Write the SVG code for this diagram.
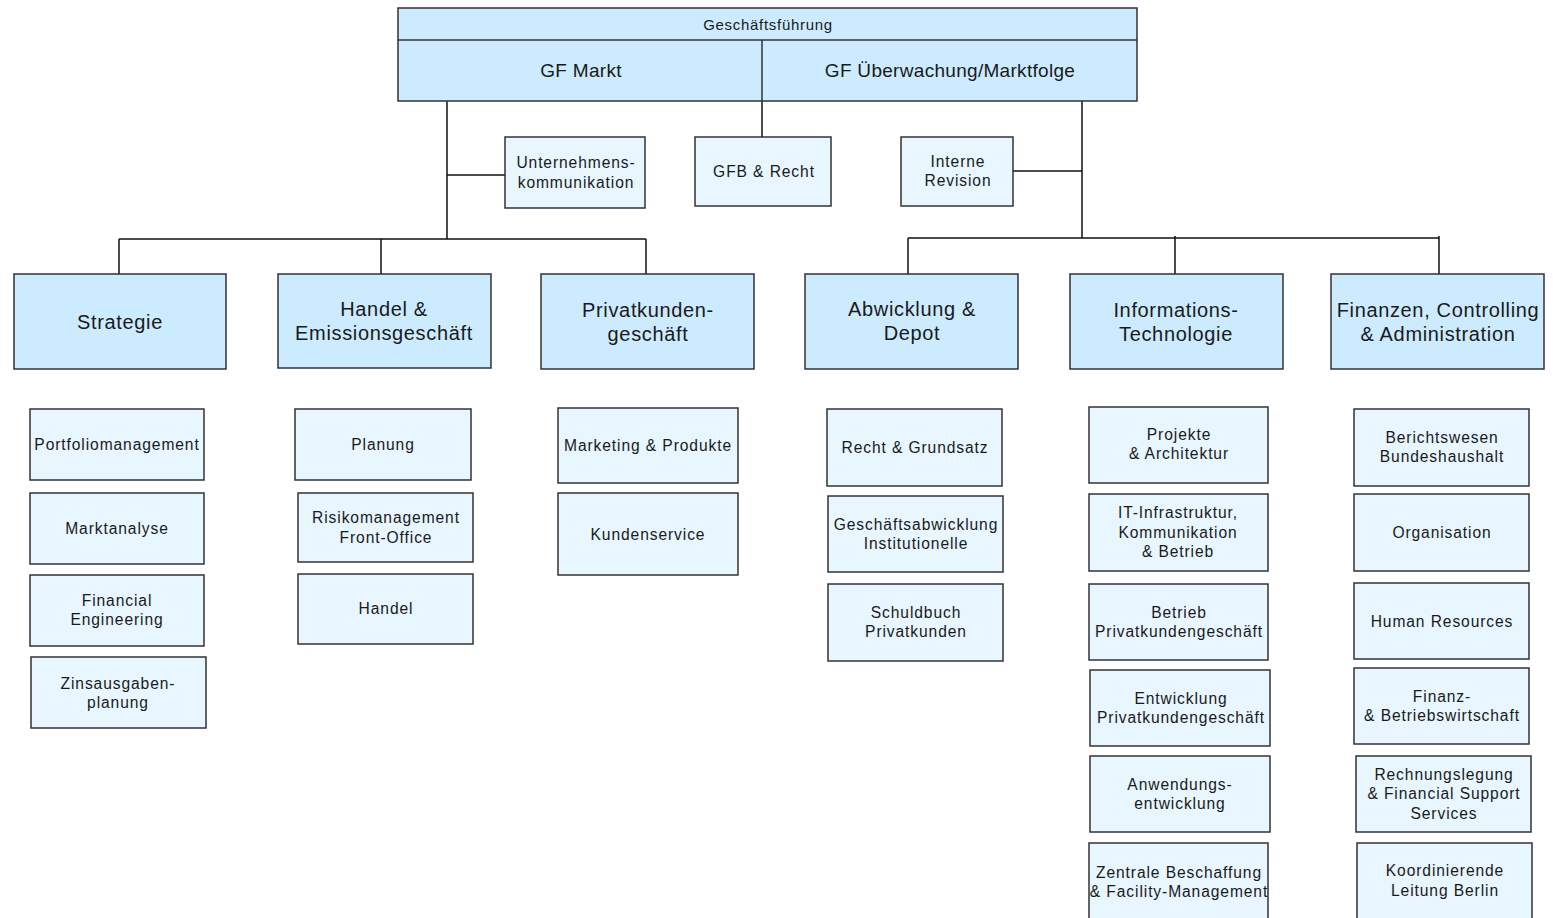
<svg xmlns="http://www.w3.org/2000/svg" width="1553" height="918" viewBox="0 0 1553 918">
<style>
.top{fill:#CCEBFF;stroke:#333;stroke-width:1.5}
.l2{fill:#CCEBFF;stroke:#333;stroke-width:1.5}
.sub{fill:#E8F6FF;stroke:#333;stroke-width:1.5}
text{font-family:"Liberation Sans",Arial,sans-serif;fill:#1a1a1a;text-anchor:middle}
.t15{font-size:15.6px;letter-spacing:0.9px}
.t20{font-size:20px;letter-spacing:0.65px}
.th{font-size:15px;letter-spacing:0.7px}
.t19{font-size:19px;letter-spacing:0.3px}
.conn{stroke:#111;stroke-width:1.5;fill:none}
</style>
<rect width="1553" height="918" fill="#fff"/>
<g id="connectors" class="conn">
<path d="M447 101V239M447 175H505M119 239H646M119 239V274M381 239V274M646 239V274"/>
<path d="M762 101V137"/>
<path d="M1082 101V238M1013 171H1082M908 238H1439M908 238V274M1175 236V274M1439 236V274"/>
</g>
<g id="geschaeftsfuehrung">
<rect class="top" x="398" y="8" width="739" height="93"/>
<line x1="398" y1="40" x2="1137" y2="40" stroke="#333" stroke-width="1.5"/>
<line x1="762" y1="40" x2="762" y2="101" stroke="#333" stroke-width="1.5"/>
<text class="th" x="768" y="30">Geschäftsführung</text>
<text class="t19" x="581" y="77">GF Markt</text>
<text class="t19" x="950" y="77">GF Überwachung/Marktfolge</text>
</g>
<g id="unternehmenskommunikation">
<rect class="sub" x="505" y="137" width="140" height="71"/>
<text class="t15" x="576" y="168">Unternehmens-</text>
<text class="t15" x="576" y="188">kommunikation</text>
</g>
<g id="gfb-recht">
<rect class="sub" x="695" y="137" width="136" height="69"/>
<text class="t15" x="764" y="177">GFB &amp; Recht</text>
</g>
<g id="interne-revision">
<rect class="sub" x="901" y="137" width="112" height="69"/>
<text class="t15" x="958" y="167">Interne</text>
<text class="t15" x="958" y="186">Revision</text>
</g>
<g id="strategie">
<rect class="l2" x="14" y="274" width="212" height="95"/>
<text class="t20" x="120" y="329">Strategie</text>
</g>
<g id="handel-emission">
<rect class="l2" x="278" y="274" width="213" height="94"/>
<text class="t20" x="384" y="316">Handel &amp;</text>
<text class="t20" x="384" y="340">Emissionsgeschäft</text>
</g>
<g id="privatkunden">
<rect class="l2" x="541" y="274" width="213" height="95"/>
<text class="t20" x="648" y="317">Privatkunden-</text>
<text class="t20" x="648" y="341">geschäft</text>
</g>
<g id="abwicklung">
<rect class="l2" x="805" y="274" width="213" height="95"/>
<text class="t20" x="912" y="316">Abwicklung &amp;</text>
<text class="t20" x="912" y="340">Depot</text>
</g>
<g id="it">
<rect class="l2" x="1070" y="274" width="213" height="95"/>
<text class="t20" x="1176" y="317">Informations-</text>
<text class="t20" x="1176" y="341">Technologie</text>
</g>
<g id="finanzen">
<rect class="l2" x="1331" y="274" width="213" height="95"/>
<text class="t20" x="1438" y="317">Finanzen, Controlling</text>
<text class="t20" x="1438" y="341">&amp; Administration</text>
</g>
<g id="portfoliomanagement"><rect class="sub" x="30" y="409" width="174" height="71"/><text class="t15" x="117" y="450">Portfoliomanagement</text></g>
<g id="marktanalyse"><rect class="sub" x="30" y="493" width="174" height="71"/><text class="t15" x="117" y="534">Marktanalyse</text></g>
<g id="financial-engineering"><rect class="sub" x="30" y="575" width="174" height="71"/><text class="t15" x="117" y="606">Financial</text><text class="t15" x="117" y="625">Engineering</text></g>
<g id="zinsausgabenplanung"><rect class="sub" x="31" y="657" width="175" height="71"/><text class="t15" x="118" y="689">Zinsausgaben-</text><text class="t15" x="118" y="708">planung</text></g>
<g id="planung"><rect class="sub" x="295" y="409" width="176" height="71"/><text class="t15" x="383" y="450">Planung</text></g>
<g id="risikomanagement"><rect class="sub" x="298" y="493" width="175" height="69"/><text class="t15" x="386" y="523">Risikomanagement</text><text class="t15" x="386" y="543">Front-Office</text></g>
<g id="handel"><rect class="sub" x="298" y="574" width="175" height="70"/><text class="t15" x="386" y="614">Handel</text></g>
<g id="marketing"><rect class="sub" x="558" y="408" width="180" height="75"/><text class="t15" x="648" y="451">Marketing &amp; Produkte</text></g>
<g id="kundenservice"><rect class="sub" x="558" y="493" width="180" height="82"/><text class="t15" x="648" y="540">Kundenservice</text></g>
<g id="recht-grundsatz"><rect class="sub" x="827" y="409" width="175" height="77"/><text class="t15" x="915" y="453">Recht &amp; Grundsatz</text></g>
<g id="geschaeftsabwicklung"><rect class="sub" x="828" y="496" width="175" height="76"/><text class="t15" x="916" y="530">Geschäftsabwicklung</text><text class="t15" x="916" y="549">Institutionelle</text></g>
<g id="schuldbuch"><rect class="sub" x="828" y="584" width="175" height="77"/><text class="t15" x="916" y="618">Schuldbuch</text><text class="t15" x="916" y="637">Privatkunden</text></g>
<g id="projekte"><rect class="sub" x="1089" y="407" width="179" height="76"/><text class="t15" x="1179" y="440">Projekte</text><text class="t15" x="1179" y="459">&amp; Architektur</text></g>
<g id="it-infrastruktur"><rect class="sub" x="1089" y="494" width="179" height="77"/><text class="t15" x="1178" y="518">IT-Infrastruktur,</text><text class="t15" x="1178" y="538">Kommunikation</text><text class="t15" x="1178" y="557">&amp; Betrieb</text></g>
<g id="betrieb-pk"><rect class="sub" x="1089" y="584" width="179" height="76"/><text class="t15" x="1179" y="618">Betrieb</text><text class="t15" x="1179" y="637">Privatkundengeschäft</text></g>
<g id="entwicklung-pk"><rect class="sub" x="1090" y="670" width="180" height="76"/><text class="t15" x="1181" y="704">Entwicklung</text><text class="t15" x="1181" y="723">Privatkundengeschäft</text></g>
<g id="anwendungsentwicklung"><rect class="sub" x="1090" y="756" width="180" height="76"/><text class="t15" x="1180" y="790">Anwendungs-</text><text class="t15" x="1180" y="809">entwicklung</text></g>
<g id="zentrale-beschaffung"><rect class="sub" x="1089" y="843" width="179" height="80"/><text class="t15" x="1179" y="878">Zentrale Beschaffung</text><text class="t15" x="1179" y="897">&amp; Facility-Management</text></g>
<g id="berichtswesen"><rect class="sub" x="1354" y="409" width="175" height="77"/><text class="t15" x="1442" y="443">Berichtswesen</text><text class="t15" x="1442" y="462">Bundeshaushalt</text></g>
<g id="organisation"><rect class="sub" x="1354" y="494" width="175" height="77"/><text class="t15" x="1442" y="538">Organisation</text></g>
<g id="human-resources"><rect class="sub" x="1354" y="583" width="175" height="76"/><text class="t15" x="1442" y="627">Human Resources</text></g>
<g id="finanz-betriebswirtschaft"><rect class="sub" x="1354" y="668" width="175" height="76"/><text class="t15" x="1442" y="702">Finanz-</text><text class="t15" x="1442" y="721">&amp; Betriebswirtschaft</text></g>
<g id="rechnungslegung"><rect class="sub" x="1356" y="756" width="175" height="76"/><text class="t15" x="1444" y="780">Rechnungslegung</text><text class="t15" x="1444" y="799">&amp; Financial Support</text><text class="t15" x="1444" y="819">Services</text></g>
<g id="koordinierende-leitung"><rect class="sub" x="1357" y="843" width="175" height="80"/><text class="t15" x="1445" y="876">Koordinierende</text><text class="t15" x="1445" y="896">Leitung Berlin</text></g>
</svg>
